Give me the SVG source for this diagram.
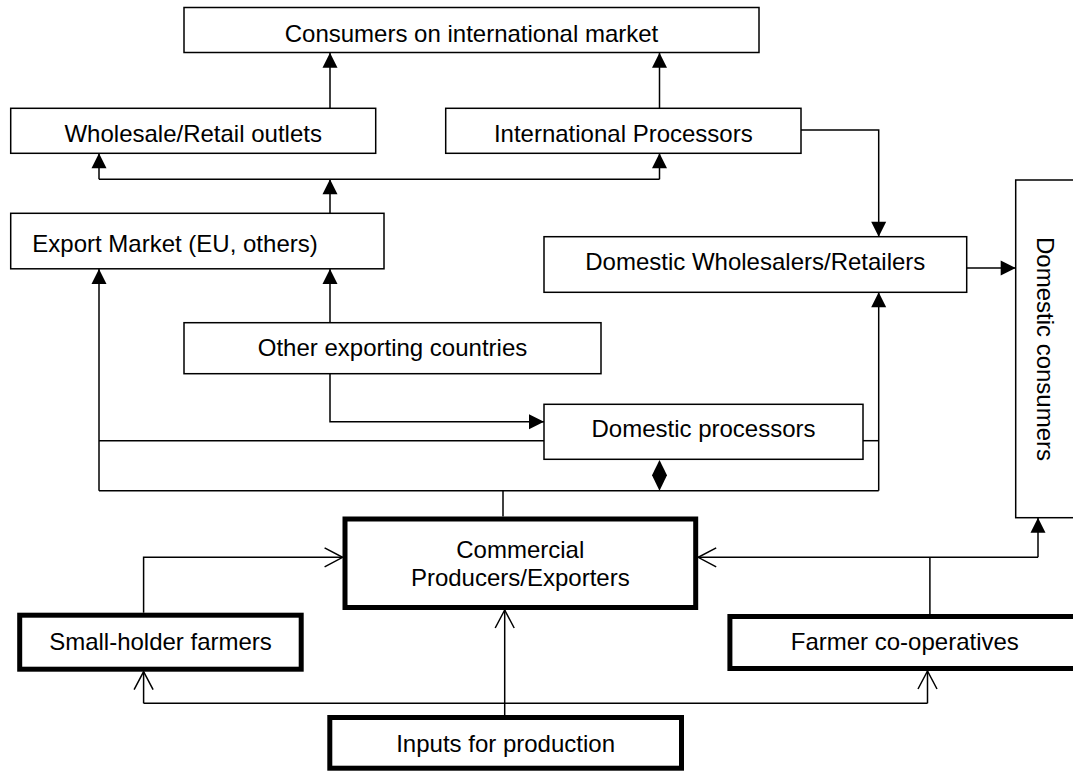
<svg xmlns="http://www.w3.org/2000/svg" width="1073" height="774" viewBox="0 0 1073 774">
  <style>
    .box { fill: #fff; stroke: #000; stroke-width: 1.5; }
    .thick { fill: #fff; stroke: #000; stroke-width: 5; }
    .lbl { font-family: "Liberation Sans", Arial, sans-serif; font-size: 24px; fill: #000; }
    .c { text-anchor: middle; }
    .ln { fill: none; stroke: #000; stroke-width: 1.5; }
    .fa { marker-end: url(#fill); }
    .oa { marker-end: url(#open); }
  </style>
  <defs>
    <marker id="fill" markerUnits="userSpaceOnUse" markerWidth="16" markerHeight="16" refX="15" refY="7.5" orient="auto" overflow="visible">
      <path d="M0,0 L15,7.5 L0,15 Z" fill="#000"/>
    </marker>
    <marker id="open" markerUnits="userSpaceOnUse" markerWidth="20" markerHeight="20" refX="18" refY="9.5" orient="auto" overflow="visible">
      <path d="M0,0 L18,9.5 L0,19" fill="none" stroke="#000" stroke-width="1.5"/>
    </marker>
  </defs>
  <rect width="1073" height="774" fill="#fff"/>

  <g id="connectors">
    <path class="ln fa" d="M330,108.3 V52.7"/>
    <path class="ln fa" d="M659.5,108.3 V52.7"/>
    <path class="ln fa" d="M330,213.3 V179.3"/>
    <path class="ln" d="M99,179.3 H659.5"/>
    <path class="ln fa" d="M99,179.3 V153.3"/>
    <path class="ln fa" d="M659.5,179.3 V153.3"/>
    <path class="ln fa" d="M801,130 H878.7 V236.7"/>
    <path class="ln fa" d="M966.7,268 H1015.7"/>
    <path class="ln" d="M99,490.7 H878.7"/>
    <path class="ln fa" d="M99,490.7 V269"/>
    <path class="ln fa" d="M878.7,490.7 V292.3"/>
    <path class="ln" d="M99,440.7 H544"/>
    <path class="ln" d="M863,440.7 H878.7"/>
    <path class="ln fa" d="M330,322.7 V269"/>
    <path class="ln fa" d="M330,373.7 V421.7 H544"/>
    <path class="ln" d="M503,490.7 V516.5"/>
    <polygon points="659.5,460 667,475.3 659.5,490.7 652,475.3" fill="#000"/>
    <path class="ln oa" d="M143.6,612.7 V557.3 H342.6"/>
    <path class="ln oa" d="M504.7,715 V610"/>
    <path class="ln" d="M143.6,703.3 H927.5"/>
    <path class="ln oa" d="M143.6,703.3 V671.7"/>
    <path class="ln oa" d="M927.5,703.3 V671"/>
    <path class="ln" d="M929.9,614 V557.3"/>
    <path class="ln oa" d="M1038,557.3 H698.2"/>
    <path class="ln fa" d="M1038,557.3 V517.7"/>
  </g>

  <g id="consumers-international">
    <rect class="box" x="184" y="7.5" width="575" height="45"/>
    <text class="lbl c" x="471.5" y="41.5">Consumers on international market</text>
  </g>
  <g id="wholesale-retail">
    <rect class="box" x="10.7" y="108.3" width="365" height="45"/>
    <text class="lbl c" x="193.2" y="141.7">Wholesale/Retail outlets</text>
  </g>
  <g id="international-processors">
    <rect class="box" x="445.7" y="108.3" width="355.3" height="45"/>
    <text class="lbl c" x="623.3" y="141.7">International Processors</text>
  </g>
  <g id="export-market">
    <rect class="box" x="10.7" y="213.3" width="373.3" height="55.5"/>
    <text class="lbl" x="32.3" y="251.7">Export Market (EU, others)</text>
  </g>
  <g id="domestic-wholesalers">
    <rect class="box" x="544" y="236.7" width="422.7" height="55.6"/>
    <text class="lbl c" x="755.3" y="270">Domestic Wholesalers/Retailers</text>
  </g>
  <g id="domestic-consumers">
    <rect class="box" x="1015.7" y="180" width="80" height="337.7"/>
    <text class="lbl c" transform="translate(1037,349) rotate(90)">Domestic consumers</text>
  </g>
  <g id="other-exporting">
    <rect class="box" x="184" y="322.7" width="417" height="51"/>
    <text class="lbl c" x="392.5" y="356">Other exporting countries</text>
  </g>
  <g id="domestic-processors">
    <rect class="box" x="544" y="404.3" width="319" height="55"/>
    <text class="lbl c" x="703.5" y="436.7">Domestic processors</text>
  </g>
  <g id="commercial-producers">
    <rect class="thick" x="345" y="519" width="350.7" height="88.5"/>
    <text class="lbl c" x="520.3" y="557.7">Commercial</text>
    <text class="lbl c" x="520.3" y="585.7">Producers/Exporters</text>
  </g>
  <g id="small-holder">
    <rect class="thick" x="19.7" y="615.2" width="281.5" height="54"/>
    <text class="lbl c" x="160.5" y="650">Small-holder farmers</text>
  </g>
  <g id="farmer-cooperatives">
    <rect class="thick" x="729.9" y="616.5" width="350" height="52"/>
    <text class="lbl c" x="904.8" y="650">Farmer co-operatives</text>
  </g>
  <g id="inputs">
    <rect class="thick" x="329.8" y="717.5" width="351.7" height="50.7"/>
    <text class="lbl c" x="505.6" y="751.5">Inputs for production</text>
  </g>
</svg>
